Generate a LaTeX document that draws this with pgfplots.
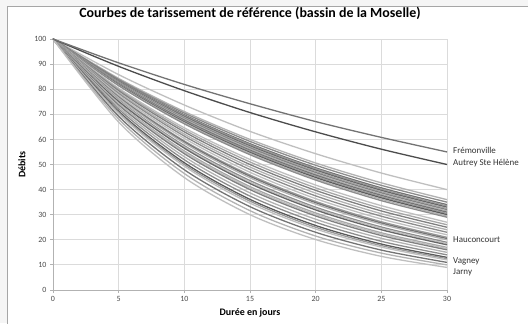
\documentclass[border=0pt]{standalone}
\usepackage{pgfplots}
\pgfplotsset{compat=1.18}
\usepackage{fontspec}
\setmainfont{Carlito}
\begin{document}
\begin{tikzpicture}[x=1bp,y=1bp]
\path[use as bounding box] (0,0) rectangle (528,323);
\fill[black!4] (0,0) rectangle (528,323);
\filldraw[fill=white,draw=black!35,line width=0.8bp] (7,-5) rectangle (540,317);
\begin{axis}[
  scale only axis, width=394bp, height=251bp,
  anchor=south west, at={(53bp,33bp)},
  xmin=0, xmax=30, ymin=0, ymax=100,
  xtick={0,5,...,30}, ytick={0,10,...,100},
  grid=major, major grid style={black!14, line width=0.9bp},
  axis lines*=left, axis line style={black!30, line width=0.9bp},
  tick style={black!30, line width=0.9bp}, major tick length=3bp, tick align=outside,
  ticklabel style={font=\fontsize{8}{9}\selectfont, text=black!70},
  /pgf/number format/assume math mode=true,
  clip=false,
  title={Courbes de tarissement de référence (bassin de la Moselle)},
  title style={at={(axis description cs:0.5,1.08)}, anchor=center, font=\fontsize{14}{16}\selectfont\bfseries},
  xlabel={Durée en jours},
  xlabel style={at={(axis description cs:0.5,-0.0916)}, anchor=center, font=\fontsize{10}{11}\selectfont\bfseries},
  ylabel={Débits},
  ylabel style={at={(axis description cs:-0.079,0.5)}, anchor=center, font=\fontsize{10}{11}\selectfont\bfseries},
  every axis plot/.append style={line width=1.3bp, no markers, smooth},
]
% t = 0,5,10,15,20,25,30
\addplot[black!25] coordinates {(0,100)(5,85.8)(10,73.7)(15,63.2)(20,54.3)(25,46.6)(30,40)};
\addplot[black!30] coordinates {(0,100)(5,84.3)(10,71.1)(15,60.0)(20,50.6)(25,42.7)(30,36)};
\addplot[black!45] coordinates {(0,100)(5,83.9)(10,70.5)(15,59.2)(20,49.7)(25,41.7)(30,35)};
\addplot[black!55] coordinates {(0,100)(5,83.5)(10,69.8)(15,58.3)(20,48.7)(25,40.7)(30,34)};
\addplot[black!40] coordinates {(0,100)(5,83.3)(10,69.5)(15,57.9)(20,48.3)(25,40.2)(30,33.5)};
\addplot[black!60] coordinates {(0,100)(5,83.1)(10,69.1)(15,57.4)(20,47.8)(25,39.7)(30,33)};
\addplot[black!35] coordinates {(0,100)(5,82.9)(10,68.8)(15,57.0)(20,47.3)(25,39.2)(30,32.5)};
\addplot[black!50] coordinates {(0,100)(5,82.7)(10,68.4)(15,56.6)(20,46.8)(25,38.7)(30,32)};
\addplot[black!30] coordinates {(0,100)(5,82.5)(10,68.1)(15,56.2)(20,46.3)(25,38.2)(30,31.5)};
\addplot[black!55] coordinates {(0,100)(5,82.3)(10,67.7)(15,55.7)(20,45.8)(25,37.7)(30,31)};
\addplot[black!40] coordinates {(0,100)(5,82.1)(10,67.3)(15,55.3)(20,45.3)(25,37.2)(30,30.5)};
\addplot[black!65] coordinates {(0,100)(5,81.8)(10,66.9)(15,54.8)(20,44.8)(25,36.7)(30,30)};
\addplot[black!30] coordinates {(0,100)(5,81.6)(10,66.6)(15,54.4)(20,44.3)(25,36.2)(30,29.5)};
\addplot[black!45] coordinates {(0,100)(5,81.4)(10,66.2)(15,53.9)(20,43.8)(25,35.6)(30,29)};
\addplot[black!25] coordinates {(0,100)(5,80.4)(10,64.6)(15,52.0)(20,41.8)(25,33.6)(30,27)};
\addplot[black!35] coordinates {(0,100)(5,79.9)(10,63.8)(15,51.0)(20,40.7)(25,32.5)(30,26)};
\addplot[black!50] coordinates {(0,100)(5,79.4)(10,63.0)(15,50.0)(20,39.7)(25,31.5)(30,25)};
\addplot[black!30] coordinates {(0,100)(5,78.8)(10,62.1)(15,49.0)(20,38.6)(25,30.4)(30,24)};
\addplot[black!45] coordinates {(0,100)(5,78.3)(10,61.3)(15,48.0)(20,37.5)(25,29.4)(30,23)};
\addplot[black!25] coordinates {(0,100)(5,77.7)(10,60.4)(15,46.9)(20,36.4)(25,28.3)(30,22)};
\addplot[black!40] coordinates {(0,100)(5,77.1)(10,59.4)(15,45.8)(20,35.3)(25,27.2)(30,21)};
\addplot[black!55] coordinates {(0,100)(5,76.8)(10,59.0)(15,45.3)(20,34.8)(25,26.7)(30,20.5)};
\addplot[black!30] coordinates {(0,100)(5,76.5)(10,58.5)(15,44.7)(20,34.2)(25,26.2)(30,20)};
\addplot[black!45] coordinates {(0,100)(5,75.8)(10,57.5)(15,43.6)(20,33.0)(25,25.1)(30,19)};
\addplot[black!25] coordinates {(0,100)(5,75.5)(10,57.0)(15,43.0)(20,32.5)(25,24.6)(30,18.5)};
\addplot[black!60] coordinates {(0,100)(5,75.1)(10,56.5)(15,42.4)(20,31.9)(25,24.0)(30,18)};
\addplot[black!35] coordinates {(0,100)(5,74.4)(10,55.4)(15,41.2)(20,30.7)(25,22.8)(30,17)};
\addplot[black!25] coordinates {(0,100)(5,74.1)(10,54.9)(15,40.6)(20,30.1)(25,22.3)(30,16.5)};
\addplot[black!50] coordinates {(0,100)(5,73.7)(10,54.3)(15,40.0)(20,29.5)(25,21.7)(30,16)};
\addplot[black!30] coordinates {(0,100)(5,72.9)(10,53.1)(15,38.7)(20,28.2)(25,20.6)(30,15)};
\addplot[black!45] coordinates {(0,100)(5,72.1)(10,51.9)(15,37.4)(20,27.0)(25,19.4)(30,14)};
\addplot[black!65] coordinates {(0,100)(5,71.2)(10,50.7)(15,36.1)(20,25.7)(25,18.3)(30,13)};
\addplot[black!40] coordinates {(0,100)(5,70.7)(10,50.0)(15,35.4)(20,25.0)(25,17.7)(30,12.5)};
\addplot[black!25] coordinates {(0,100)(5,70.2)(10,49.3)(15,34.6)(20,24.3)(25,17.1)(30,12)};
\addplot[black!55] coordinates {(0,100)(5,69.2)(10,47.9)(15,33.2)(20,23.0)(25,15.9)(30,11)};
\addplot[black!30] coordinates {(0,100)(5,68.1)(10,46.4)(15,31.6)(20,21.5)(25,14.7)(30,10)};
\addplot[black!25] coordinates {(0,100)(5,66.9)(10,44.8)(15,30.0)(20,20.1)(25,13.4)(30,9)};
% Autrey Ste Helene and Fremonville
\addplot[black!70] coordinates {(0,100)(5,89.1)(10,79.4)(15,70.7)(20,63.0)(25,56.1)(30,50)};
\addplot[black!55] coordinates {(0,100)(5,90.5)(10,81.9)(15,74.2)(20,67.1)(25,60.8)(30,55)};
\begin{scope}[every node/.style={anchor=west, font=\fontsize{9}{10}\selectfont, text=black!80, inner sep=0pt}]
\node at ([xshift=6bp]axis cs:30,55.8) {Frémonville};
\node at ([xshift=6bp]axis cs:30,50.6) {Autrey Ste Hélène};
\node at ([xshift=6bp]axis cs:30,19.9) {Hauconcourt};
\node at ([xshift=6bp]axis cs:30,11.2) {Vagney};
\node at ([xshift=6bp]axis cs:30,7.2) {Jarny};
\end{scope}
\end{axis}
\end{tikzpicture}
\end{document}
